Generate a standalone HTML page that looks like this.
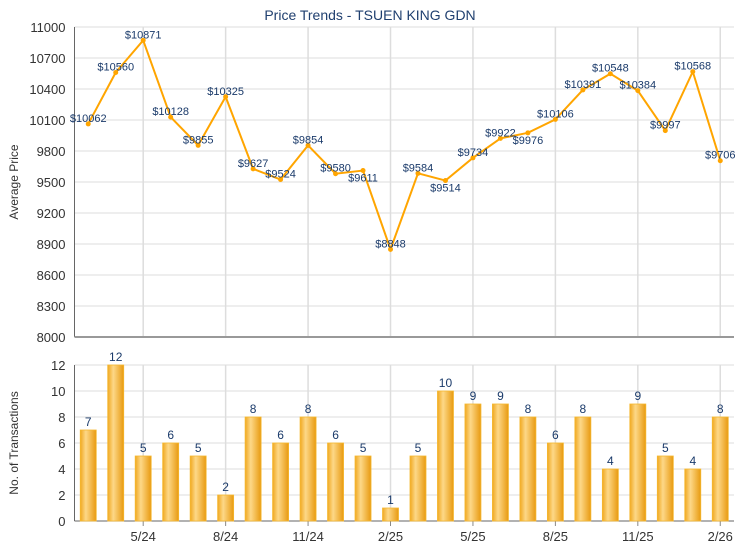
<!DOCTYPE html>
<html><head><meta charset="utf-8"><style>
html,body{margin:0;padding:0;background:#fff;}
svg{display:block;font-family:"Liberation Sans",Arial,sans-serif;}
</style></head><body>
<svg id="c" width="740" height="550" xmlns="http://www.w3.org/2000/svg">
<defs>
<linearGradient id="bg" x1="0" x2="1" y1="0" y2="0">
<stop offset="0" stop-color="#f0a820"/>
<stop offset="0.35" stop-color="#fdd888"/>
<stop offset="1" stop-color="#e89a10"/>
</linearGradient>
</defs>
<text x="370" y="20" text-anchor="middle" font-size="14" fill="#1f3f6f">Price Trends - TSUEN KING GDN</text>
<g id="g"></g>
</svg>
<script>
const g=document.getElementById('g');let s='';
const L=74.5,R=734,T=27,B=337,bT=365,bB=521,w=(R-L)/24;
const P=[10062,10560,10871,10128,9855,10325,9627,9524,9854,9580,9611,8848,9584,9514,9734,9922,9976,10106,10391,10548,10384,9997,10568,9706];
const C=[7,12,5,6,5,2,8,6,8,6,5,1,5,10,9,9,8,6,8,4,9,5,4,8];
const below={10:1,13:1,16:1};
const xs=i=>L+w*(i+0.5);
const py=v=>T+(11000-v)/300*31;
const cy=v=>bB-v*13;
// grids
for(let k=0;k<=10;k++){const y=T+k*31;s+=`<line x1="${L}" x2="${R}" y1="${y}" y2="${y}" stroke="#ddd"/>`;
s+=`<text x="${L-9}" y="${y+5}" text-anchor="end" font-size="13" fill="#333">${11000-k*300}</text>`;}
for(let k=0;k<=6;k++){const y=bB-k*26;s+=`<line x1="${L}" x2="${R}" y1="${y}" y2="${y}" stroke="#ddd"/>`;
s+=`<text x="${L-9}" y="${y+5}" text-anchor="end" font-size="13" fill="#333">${k*2}</text>`;}
const labs=['5/24','8/24','11/24','2/25','5/25','8/25','11/25','2/26'];
labs.forEach((t,j)=>{const x=xs(2+3*j);s+=`<line x1="${x}" x2="${x}" y1="${T}" y2="${B}" stroke="#ddd" stroke-width="1.5"/><line x1="${x}" x2="${x}" y1="${bT}" y2="${bB}" stroke="#ddd" stroke-width="1.5"/><line x1="${x}" x2="${x}" y1="${bB}" y2="${bB+5}" stroke="#888"/>`;
s+=`<text x="${x}" y="${bB+20}" text-anchor="middle" font-size="13" fill="#333">${t}</text>`;});
s+=`<line x1="${L}" x2="${L}" y1="${T}" y2="${B}" stroke="#666"/><line x1="${L}" x2="${R}" y1="${B}" y2="${B}" stroke="#999" stroke-width="2"/>`;
s+=`<line x1="${L}" x2="${L}" y1="${bT}" y2="${bB}" stroke="#666"/><line x1="${L}" x2="${R}" y1="${bB}" y2="${bB}" stroke="#666"/>`;
s+=`<text transform="translate(18,182) rotate(-90)" text-anchor="middle" font-size="12" fill="#333">Average Price</text>`;
s+=`<text transform="translate(18,443) rotate(-90)" text-anchor="middle" font-size="12" fill="#333">No. of Transactions</text>`;
// bars
C.forEach((v,i)=>{const x=xs(i),y=cy(v);s+=`<rect x="${x-8}" y="${y}" width="16" height="${bB-y}" fill="url(#bg)" stroke="#f5b830" stroke-width="0.8"/>`;
s+=`<text x="${x}" y="${y-4}" text-anchor="middle" font-size="12" fill="#1a3a6a">${v}</text>`;});
// line
s+=`<polyline fill="none" stroke="#ffa500" stroke-width="2" points="${P.map((v,i)=>xs(i)+','+py(v)).join(' ')}"/>`;
P.forEach((v,i)=>{const x=xs(i),y=py(v);s+=`<circle cx="${x}" cy="${y}" r="2.5" fill="#ffa500"/>`;
const ly=below[i]?y+11:y-2;s+=`<text x="${x}" y="${ly}" text-anchor="middle" font-size="11" fill="#1a3a6a">$${v}</text>`;});
g.innerHTML=s;
</script>
</body></html>
